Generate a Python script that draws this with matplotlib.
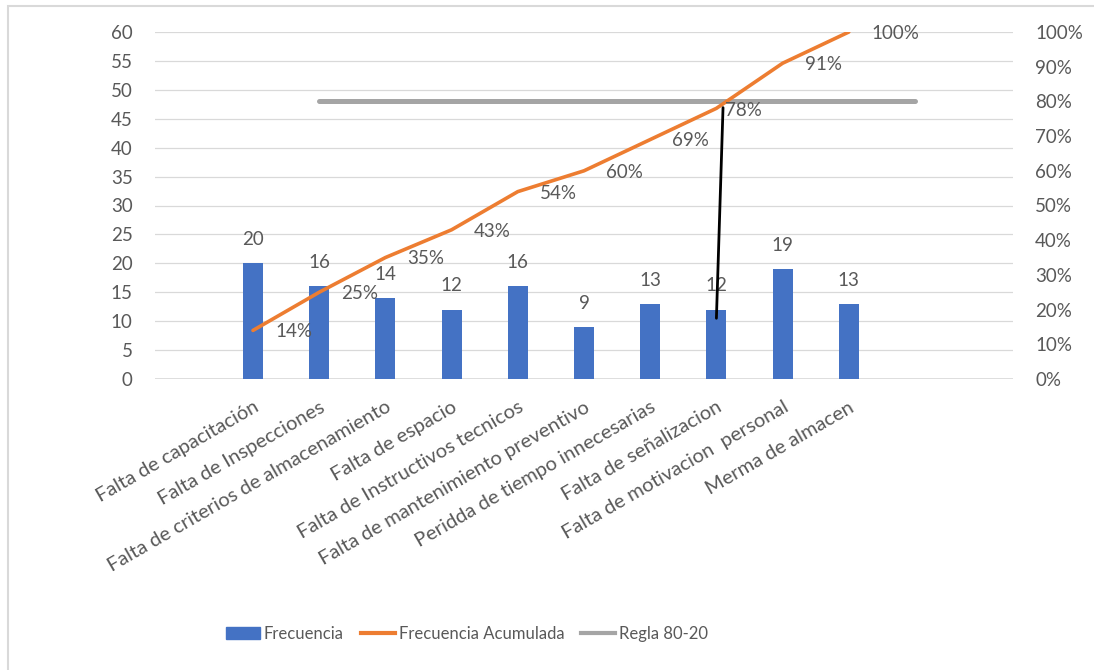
import matplotlib
matplotlib.use("Agg")
import matplotlib.pyplot as plt
from matplotlib.patches import Rectangle, Patch
from matplotlib.lines import Line2D
from matplotlib.ticker import FuncFormatter, MultipleLocator

# Pareto data
categorias = [
    "Falta de capacitación",
    "Falta de Inspecciones",
    "Falta de criterios de almacenamiento",
    "Falta de espacio",
    "Falta de Instructivos tecnicos",
    "Falta de mantenimiento preventivo",
    "Peridda de tiempo innecesarias",
    "Falta de señalizacion",
    "Falta de motivacion  personal",
    "Merma de almacen",
]
frecuencia = [20, 16, 14, 12, 16, 9, 13, 12, 19, 13]
acumulada_pct = [14, 25, 35, 43, 54, 60, 69, 78, 91, 100]
regla_x = [1, 10]
regla_pct = [80, 80]

BLUE = "#4472C4"
ORANGE = "#ED7D31"
GRAY = "#A5A5A5"
TEXT = "#595959"
GRID = "#D9D9D9"

plt.rcParams["font.family"] = ["Lato", "DejaVu Sans"]
FS = 14.5
FS_TICK = 13.5
FS_LEG = 12

W, H = 1094, 670
fig = plt.figure(figsize=(W / 100, H / 100), dpi=100)

# chart frame (only its top and left edges fall inside the image)
fig.patches.append(Rectangle((8 / W, -0.5), 2.0, 1.5 - 6 / H, transform=fig.transFigure,
                             fill=False, edgecolor="#D9D9D9", lw=1.5))

left, right, top, bottom = 155, 1013, 32, 379
ax = fig.add_axes([left / W, 1 - bottom / H, (right - left) / W, (bottom - top) / H])
ax2 = ax.twinx()

x = list(range(len(categorias)))
ax.bar(x, frecuencia, width=0.3, color=BLUE, zorder=2)
ax.set_xlim(-1.48, 11.48)
ax.set_ylim(0, 60)
ax.yaxis.set_major_locator(MultipleLocator(5))
ax.grid(axis="y", color=GRID, lw=0.9, zorder=0)
ax.set_axisbelow(True)
for s in ax.spines.values():
    s.set_visible(False)
for s in ax2.spines.values():
    s.set_visible(False)
ax.axhline(0, color=GRID, lw=1.2, zorder=1)

ax.set_xticks(x)
ax.set_xticklabels(categorias, rotation=30, ha="right", rotation_mode="anchor",
                   fontsize=FS, color=TEXT)
ax.tick_params(axis="x", length=0, pad=14)
ax.tick_params(axis="y", length=0, pad=16, labelsize=FS_TICK, labelcolor=TEXT)

for xi, v in zip(x, frecuencia):
    ax.annotate(str(v), (xi, v), xytext=(0, 17), textcoords="offset points",
                ha="center", va="center", fontsize=FS_TICK, color=TEXT, zorder=5)

# cumulative percentage on the secondary axis
ax2.set_ylim(0, 100)
ax2.yaxis.set_major_locator(MultipleLocator(10))
ax2.yaxis.set_major_formatter(FuncFormatter(lambda v, p: f"{v:.0f}%"))
ax2.tick_params(axis="y", length=0, pad=16, labelsize=FS_TICK, labelcolor=TEXT)

ax2.plot(regla_x, regla_pct, color=GRAY, lw=3.6, solid_capstyle="round", zorder=3)
ax2.plot(x, acumulada_pct, color=ORANGE, lw=2.6, solid_capstyle="round", zorder=4)

for xi, p in zip(x, acumulada_pct):
    dx, dy = 16, -1
    if p == 78:
        dx, dy = 6.5, -1.5
    ax2.annotate(f"{p}%", (xi, p), xytext=(dx, dy), textcoords="offset points",
                 ha="left", va="center", fontsize=FS_TICK, color=TEXT, zorder=5)

# connector from the 80% crossing down to the bar of the same category
i78 = acumulada_pct.index(78)
ax2.plot([i78 + 0.1, i78], [acumulada_pct[i78] + 0.2, 10.5 / 60 * 100],
         color="black", lw=2.0, zorder=6, solid_capstyle="round")

# legend
handles = [
    Patch(facecolor=BLUE, edgecolor=BLUE),
    Line2D([], [], color=ORANGE, lw=3),
    Line2D([], [], color=GRAY, lw=3),
]
labels = ["Frecuencia", "Frecuencia Acumulada", "Regla 80-20"]
fig.legend(handles, labels, loc="center", bbox_to_anchor=(467 / W, 1 - 634 / H),
           ncol=3, frameon=False, fontsize=FS_LEG, labelcolor=TEXT,
           handlelength=2.05, handleheight=0.78, handletextpad=0.24, columnspacing=1.0)

fig.savefig("out.png", dpi=100, facecolor="white")
